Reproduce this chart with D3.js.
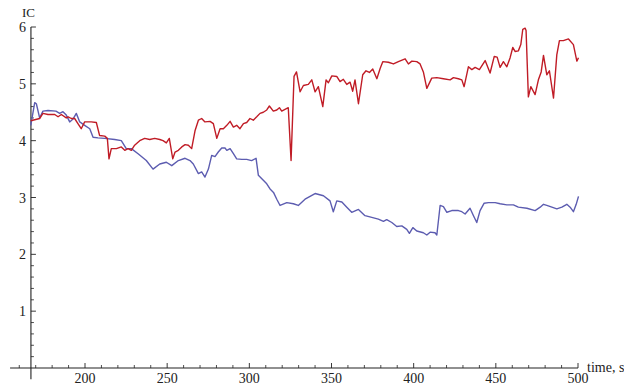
<!DOCTYPE html>
<html>
<head>
<meta charset="utf-8">
<script src="https://cdn.jsdelivr.net/npm/d3@7"></script>
<style>
  html, body { margin: 0; padding: 0; background: #fff; }
  svg { display: block; }
  text { font-family: "Liberation Serif", "DejaVu Serif", serif; fill: #222; }
</style>
</head>
<body>
<svg id="chart" width="624" height="385"></svg>
<script>
// ---- data ----
const redTime = [167,172.4,174.4,177.5,181.6,183.6,185.6,188.6,189.7,191.7,193.7,195.7,197.7,199.8,203.8,206.9,208.9,212.0,213.6,214.6,216.0,219.1,222.1,224.2,226.2,228.2,230.2,233.3,236.3,239.4,242.4,245.5,247.5,249.5,251.3,253.4,254.8,256.8,258.9,260.9,262.9,264.9,267.0,269.0,271.0,273.0,276.1,278.1,280.2,282.2,284.2,286.3,288.3,290.3,292.3,294.3,296.4,298.4,300.4,302.4,304.5,306.5,308.5,310.6,312.2,314.6,316.7,318.3,319.7,321.7,323.7,325.4,327.2,328.7,330.9,332.9,335.9,338.0,340.0,342.0,344.7,346.7,348.1,350.2,353.2,355.2,357.2,359.3,361.3,362.9,364.3,366.4,369.0,371.0,373.1,375.1,377.6,379.6,381.2,384.6,387.7,390.7,394.8,396.8,398.9,401.9,403.9,405.9,408.0,411.0,414.1,418.1,422.2,424.2,427.2,429.3,430.7,433.3,435.4,437.4,440.0,443.5,446.5,449.0,450.8,452.6,454.6,456.7,458.7,460.3,461.7,463.7,465.2,466.4,467.8,468.4,469.8,471.3,473.9,475.9,477.6,479.0,481.0,482.6,485.1,487.1,488.7,491.1,494.2,497.2,499.3,500.3];
const redIC = [4.35,4.39,4.48,4.46,4.46,4.42,4.46,4.40,4.42,4.39,4.39,4.30,4.21,4.33,4.33,4.32,4.09,4.08,4.04,3.68,3.86,3.86,3.89,3.83,3.86,3.83,3.92,4.00,4.04,4.02,4.04,4.02,4.00,3.96,4.04,3.68,3.80,3.83,3.89,3.93,3.92,3.86,4.18,4.36,4.39,4.33,4.34,4.30,4.04,4.21,4.21,4.27,4.34,4.24,4.27,4.21,4.30,4.32,4.39,4.36,4.42,4.48,4.50,4.54,4.61,4.52,4.54,4.58,4.52,4.55,4.58,3.65,5.13,5.21,4.86,4.97,4.99,5.07,4.86,4.95,4.60,5.07,5.02,5.14,5.13,5.04,5.08,4.99,5.03,4.87,5.07,4.65,5.16,5.23,5.20,5.26,5.09,5.27,5.39,5.38,5.35,5.39,5.44,5.35,5.40,5.39,5.35,5.21,4.92,5.10,5.11,5.09,5.07,5.11,5.09,5.07,4.95,5.30,5.25,5.29,5.25,5.41,5.19,5.48,5.47,5.29,5.39,5.30,5.46,5.64,5.57,5.58,5.69,5.96,5.98,5.94,4.77,4.95,4.81,5.07,5.21,5.50,5.16,5.23,4.75,5.51,5.76,5.76,5.79,5.69,5.40,5.46];

const blueTime = [167.0,169.4,170.4,172.4,174.4,177.5,182.3,184.6,186.6,188.6,190.7,192.7,194.7,196.8,199.8,202.9,204.9,207.9,212.0,218.1,222.1,225.1,228.2,232.3,237.3,241.4,245.5,249.5,252.8,256.8,260.9,263.9,265.9,269.0,271.0,273.0,275.1,277.1,279.1,281.1,283.2,285.2,286.3,288.3,290.3,292.3,295.4,298.4,301.4,304.1,305.5,307.6,310.6,312.6,314.7,316.7,318.7,322.8,326.8,329.8,333.9,340.0,345.1,349.1,351.1,353.2,356.3,359.3,362.3,366.4,370.4,374.5,378.5,381.6,383.6,386.7,389.7,392.8,395.8,397.4,399.5,401.9,405.9,408.0,410.0,413.0,414.1,416.1,418.1,420.2,423.2,427.2,429.3,431.3,434.3,436.4,438.4,440.4,442.9,445.5,449.6,452.6,456.7,460.7,463.7,468.9,473.9,477.0,479.0,481.0,484.1,487.1,490.2,493.2,495.2,497.2,498.9,500.3];
const blueIC = [4.27,4.67,4.65,4.40,4.52,4.53,4.52,4.48,4.51,4.45,4.33,4.38,4.48,4.33,4.27,4.21,4.06,4.05,4.04,4.02,4.00,3.86,3.86,3.77,3.65,3.50,3.59,3.62,3.56,3.65,3.69,3.65,3.59,3.42,3.45,3.36,3.50,3.74,3.72,3.80,3.87,3.87,3.83,3.86,3.77,3.68,3.67,3.67,3.65,3.69,3.39,3.33,3.24,3.15,3.09,2.97,2.86,2.91,2.89,2.86,2.97,3.07,3.03,2.94,2.75,2.94,2.92,2.83,2.74,2.79,2.68,2.65,2.62,2.58,2.61,2.56,2.49,2.50,2.44,2.37,2.47,2.41,2.38,2.34,2.39,2.38,2.34,2.86,2.84,2.74,2.77,2.77,2.75,2.71,2.81,2.68,2.56,2.77,2.90,2.91,2.91,2.89,2.87,2.87,2.83,2.81,2.77,2.83,2.88,2.86,2.83,2.80,2.83,2.88,2.83,2.75,2.88,3.02];

const xMajorTicks = [200, 250, 300, 350, 400, 450, 500];
const xMinorTicks = [160,170,180,190,210,220,230,240,260,270,280,290,310,320,330,340,360,370,380,390,410,420,430,440,460,470,480,490];
const yMajorTicks = [1, 2, 3, 4, 5, 6];
const yMinorTicks = d3.range(1, 30).map(i => +(i * 0.2).toFixed(1)).filter(v => Math.abs(v - Math.round(v)) > 1e-6);

const xLabel = "time, s";
const yLabel = "IC";

// ---- scales ----
const svg = d3.select("#chart");
const x = d3.scaleLinear().domain([200, 500]).range([85, 578]);
const y = d3.scaleLinear().domain([0, 6]).range([368, 27]);

const xStart = 154.4;   // left end of the horizontal axis
const yAxisAt = 167.1;  // time where the vertical axis crosses
const yBottom = -0.2;

const axisColor = "#222";

// ---- axes lines ----
svg.append("line")
  .attr("x1", x(xStart)).attr("x2", x(500))
  .attr("y1", y(0)).attr("y2", y(0))
  .attr("stroke", axisColor).attr("stroke-width", 1.1);
svg.append("line")
  .attr("x1", x(yAxisAt)).attr("x2", x(yAxisAt))
  .attr("y1", y(yBottom)).attr("y2", y(6))
  .attr("stroke", axisColor).attr("stroke-width", 1.1);

// x ticks (pointing up)
svg.selectAll(".xmaj").data(xMajorTicks).enter().append("line")
  .attr("x1", d => x(d)).attr("x2", d => x(d))
  .attr("y1", y(0)).attr("y2", y(0) - 5)
  .attr("stroke", axisColor).attr("stroke-width", 0.9);
svg.selectAll(".xmin").data(xMinorTicks).enter().append("line")
  .attr("x1", d => x(d)).attr("x2", d => x(d))
  .attr("y1", y(0)).attr("y2", y(0) - 3)
  .attr("stroke", axisColor).attr("stroke-width", 0.8);
svg.selectAll(".xlab").data(xMajorTicks).enter().append("text")
  .attr("x", d => x(d)).attr("y", y(0) + 15)
  .attr("text-anchor", "middle").attr("font-size", 14)
  .text(d => d);

// y ticks (pointing right)
const ax = x(yAxisAt);
svg.selectAll(".ymaj").data(yMajorTicks).enter().append("line")
  .attr("x1", ax).attr("x2", ax + 5)
  .attr("y1", d => y(d)).attr("y2", d => y(d))
  .attr("stroke", axisColor).attr("stroke-width", 0.9);
svg.selectAll(".ymin").data(yMinorTicks).enter().append("line")
  .attr("x1", ax).attr("x2", ax + 3)
  .attr("y1", d => y(d)).attr("y2", d => y(d))
  .attr("stroke", axisColor).attr("stroke-width", 0.8);
svg.selectAll(".ylab").data(yMajorTicks).enter().append("text")
  .attr("x", ax - 5).attr("y", d => y(d) + 5)
  .attr("text-anchor", "end").attr("font-size", 14)
  .text(d => d);

// axis labels
svg.append("text").attr("x", x(500) + 9).attr("y", y(0) + 4)
  .attr("font-size", 14).text(xLabel);
svg.append("text").attr("x", ax - 9).attr("y", 17)
  .attr("font-size", 13).text(yLabel);

// ---- lines ----
const line = d3.line().x(d => x(d[0])).y(d => y(d[1]));
svg.append("path")
  .datum(blueTime.map((t, i) => [t, blueIC[i]]))
  .attr("fill", "none").attr("stroke", "#5c5cb0").attr("stroke-width", 1.4)
  .attr("stroke-linejoin", "round")
  .attr("d", line);
svg.append("path")
  .datum(redTime.map((t, i) => [t, redIC[i]]))
  .attr("fill", "none").attr("stroke", "#c01c26").attr("stroke-width", 1.4)
  .attr("stroke-linejoin", "round")
  .attr("d", line);
</script>
</body>
</html>
